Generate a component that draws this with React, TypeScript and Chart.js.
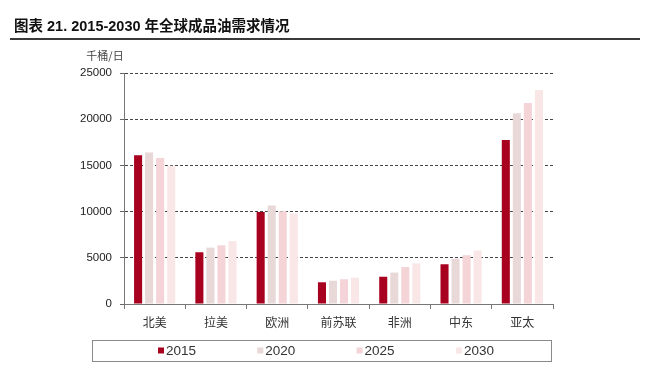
import React, { useEffect, useRef } from "react";
import { Chart, registerables } from "chart.js";

Chart.register(...registerables);

const categories = ["北美", "拉美", "欧洲", "前苏联", "非洲", "中东", "亚太"];
const seriesNames = ["2015", "2020", "2025", "2030"];
const values2015 = [16100, 5600, 9950, 2350, 2950, 4300, 17750];
const values2020 = [16400, 6100, 10650, 2520, 3400, 4900, 20650];
const values2025 = [15800, 6350, 10050, 2680, 4000, 5280, 21750];
const values2030 = [14950, 6800, 9800, 2850, 4400, 5780, 23150];
const seriesColors = ["#a8001f", "#e8d8d8", "#f4d4d7", "#f9e6e6"];
const yTicks = [0, 5000, 10000, 15000, 20000, 25000];
const titleText = "图表 21. 2015-2030 年全球成品油需求情况";
const unitText = "千桶/日";

const FONT = "Arial, 'Liberation Sans', 'Noto Sans CJK SC', sans-serif";
const CJK = "'Noto Sans CJK SC', sans-serif";

const decorPlugin = {
  id: "decor",
  afterDraw(chart: any) {
    const ctx = chart.ctx;
    const area = chart.chartArea;
    ctx.save();
    // title rule
    ctx.strokeStyle = "#3a3a3a";
    ctx.lineWidth = 2;
    ctx.beginPath();
    ctx.moveTo(10, 39);
    ctx.lineTo(640, 39);
    ctx.stroke();
    // unit label
    ctx.fillStyle = "#444";
    ctx.font = `11px ${CJK}`;
    ctx.textAlign = "center";
    ctx.textBaseline = "middle";
    ctx.fillText(unitText, area.left - 19, 56);
    // legend
    const top = 340;
    const bottom = 361;
    const left = area.left - 32;
    const right = area.right - 2;
    ctx.strokeStyle = "#8a8a8a";
    ctx.lineWidth = 1;
    ctx.strokeRect(left + 0.5, top + 0.5, right - left, bottom - top);
    const cy = (top + bottom) / 2;
    ctx.font = `13.5px ${FONT}`;
    ctx.textAlign = "left";
    chart.data.datasets.forEach((ds: any, i: number) => {
      const x = left + 66 + i * 99.3;
      ctx.fillStyle = ds.backgroundColor;
      ctx.fillRect(x, cy - 3, 6, 6);
      ctx.fillStyle = "#333";
      ctx.fillText(ds.label, x + 8, cy + 0.5);
    });
    ctx.restore();
  },
};

export default function App() {
  const ref = useRef<HTMLCanvasElement | null>(null);
  useEffect(() => {
    if (!ref.current) return;
    const allSeries = [values2015, values2020, values2025, values2030];
    const chart = new Chart(ref.current, {
      type: "bar",
      data: {
        labels: categories,
        datasets: seriesNames.map((name, i) => ({
          label: name,
          data: allSeries[i],
          backgroundColor: seriesColors[i],
          borderWidth: 0,
          categoryPercentage: 0.72,
          barPercentage: 0.73,
        })),
      },
      options: {
        animation: false,
        responsive: false,
        maintainAspectRatio: false,
        layout: { padding: { left: 14, right: 103, top: 0, bottom: 0 } },
        plugins: {
          legend: { display: false },
          tooltip: { enabled: false },
          title: {
            display: true,
            text: titleText,
            align: "start",
            color: "#111",
            font: { family: FONT, size: 14.5, weight: "bold" },
            padding: { top: 18, bottom: 37.6 },
          },
        },
        scales: {
          x: {
            grid: {
              offset: true,
              drawOnChartArea: false,
              drawTicks: true,
              tickLength: 5,
              color: "#777",
            },
            border: { color: "#777", width: 1 },
            ticks: {
              color: "#333",
              font: { family: CJK, size: 12 },
              padding: 6,
              maxRotation: 0,
            },
            afterFit(scale: any) {
              scale.height = 66;
            },
          },
          y: {
            min: 0,
            max: 25000,
            afterBuildTicks(scale: any) {
              scale.ticks = yTicks.map((v) => ({ value: v }));
            },
            grid: {
              color: (c: any) => (c.tick && c.tick.value === 0 ? "rgba(0,0,0,0)" : "#444"),
              tickColor: "#666",
              drawTicks: true,
              tickLength: 4,
              lineWidth: 1,
            },
            border: { color: "#777", width: 1, dash: [3, 2] },
            ticks: {
              color: "#222",
              font: { family: FONT, size: 11.5 },
              padding: 8,
              callback: (v: any) => String(v),
            },
            afterFit(scale: any) {
              scale.width = 110;
            },
          },
        },
      },
      plugins: [decorPlugin],
    });
    return () => chart.destroy();
  }, []);
  return (
    <div style={{ position: "absolute", left: 0, top: 0, width: 656, height: 370, background: "#fff" }}>
      <canvas ref={ref} width={656} height={370} style={{ display: "block", width: 656, height: 370 }} />
    </div>
  );
}
